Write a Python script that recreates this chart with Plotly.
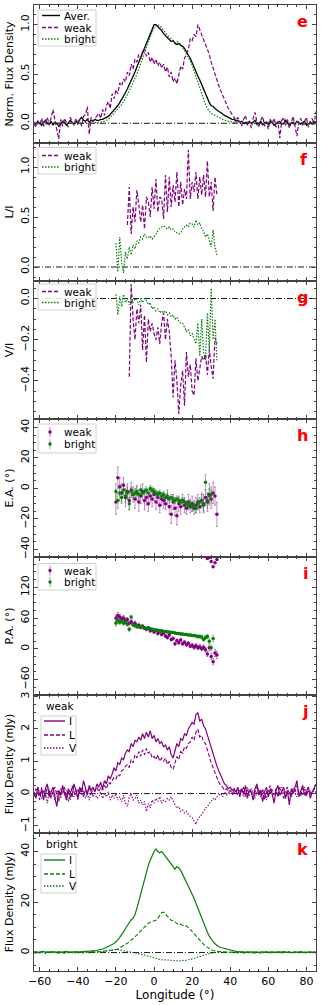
import plotly.graph_objects as go
from plotly.subplots import make_subplots

# longitude bins for the profiles (deg)
lon = list(range(-63, 86))

# panel e: normalised profiles
norm_aver = [
    0.01, -0.01, 0.02, 0.00, -0.02, 0.01, 0.03, 0.00, -0.01, 0.02, -0.02, 0.01, 0.00, -0.03, -0.01, 0.02, 0.01,
    -0.02, 0.00, 0.03, 0.01, -0.01, 0.02, 0.00, 0.04, 0.06, 0.03, 0.02, 0.04, 0.01, 0.03, 0.02, 0.04, 0.03,
    0.03, 0.04, 0.04, 0.05, 0.06, 0.07, 0.09, 0.11, 0.13, 0.16,
    0.18, 0.21, 0.24, 0.27, 0.31, 0.35, 0.39, 0.43, 0.47, 0.52,
    0.57, 0.62, 0.67, 0.72, 0.77, 0.82, 0.87, 0.92, 0.96,
    1.00, 1.00, 0.98, 0.97, 0.94, 0.91, 0.89, 0.88, 0.85, 0.83,
    0.84, 0.81, 0.80, 0.81, 0.79, 0.78, 0.76, 0.72, 0.69, 0.66,
    0.61, 0.56, 0.52, 0.48, 0.44, 0.39, 0.34, 0.29, 0.25, 0.21,
    0.18, 0.17, 0.15, 0.13, 0.12, 0.11, 0.09, 0.08, 0.07, 0.06,
    0.05, 0.04, 0.04,
    0.02, 0.03, 0.01, 0.02, 0.00, 0.01, -0.01, 0.02, 0.00, 0.01, 0.03, -0.01, 0.00, 0.02, -0.02, 0.01, 0.00,
    -0.01, 0.02, 0.01, -0.02, 0.00, 0.01, 0.02, -0.01, 0.00, 0.03, 0.01, -0.02, 0.00, 0.01, -0.01, 0.02, 0.00,
    -0.01, 0.01, 0.02, -0.02, 0.00, 0.01, -0.01, 0.02, 0.01,
]
norm_weak = [
    0.00, -0.04, 0.03, -0.02, 0.05, -0.03, 0.02, 0.06, -0.02, 0.08, 0.14, 0.03, -0.05, -0.16, 0.04, -0.03, 0.05,
    0.01, -0.04, 0.06, 0.02, -0.02, 0.05, 0.00, 0.04, -0.03, 0.07, 0.09, 0.17, -0.11, 0.06, 0.02, 0.05, 0.08,
    0.10, 0.05, 0.14, 0.08, 0.18, 0.22, 0.15, 0.30, 0.25, 0.34,
    0.30, 0.41, 0.38, 0.45, 0.42, 0.52, 0.48, 0.60, 0.55, 0.65,
    0.62, 0.70, 0.66, 0.73, 0.76, 0.68, 0.72, 0.62, 0.67,
    0.60, 0.65, 0.58, 0.62, 0.56, 0.60, 0.52, 0.57, 0.47, 0.52,
    0.42, 0.46, 0.40, 0.50, 0.58, 0.55, 0.66, 0.70, 0.75, 0.86,
    0.84, 0.90, 0.88, 1.00, 0.95, 0.90, 0.85, 0.80, 0.74, 0.70,
    0.62, 0.56, 0.48, 0.44, 0.38, 0.33, 0.28, 0.24, 0.18, 0.15,
    0.12, 0.09, 0.07,
    0.03, 0.06, 0.01, -0.03, 0.04, 0.08, -0.02, 0.02, -0.05, 0.05, 0.11, 0.01, -0.04, 0.03, 0.07, -0.03, 0.02,
    -0.06, 0.04, 0.00, 0.05, -0.04, 0.02, -0.15, 0.03, 0.06, -0.02, 0.04, -0.05, 0.02, 0.07, -0.03, -0.13, 0.02,
    0.05, -0.02, 0.03, 0.06, -0.04, 0.02, 0.05, -0.01, 0.12,
]
norm_bright = [
    0.00, 0.01, -0.01, 0.01, 0.00, 0.01, 0.00, -0.01, 0.01, 0.00, 0.01, 0.00, -0.01, 0.00, 0.01, 0.00, 0.01,
    -0.01, 0.00, 0.01, 0.00, 0.00, 0.01, -0.01, 0.00, 0.01, 0.00, 0.01, 0.00, -0.01, 0.01, 0.00, 0.01, 0.00,
    0.01, 0.01, 0.02, 0.02, 0.03, 0.04, 0.06, 0.08, 0.10, 0.12,
    0.14, 0.17, 0.19, 0.22, 0.25, 0.29, 0.33, 0.37, 0.41, 0.45,
    0.50, 0.55, 0.60, 0.66, 0.71, 0.77, 0.83, 0.88, 0.93,
    0.97, 0.99, 1.00, 0.99, 0.97, 0.95, 0.92, 0.89, 0.87, 0.85,
    0.83, 0.82, 0.83, 0.82, 0.80, 0.77, 0.74, 0.71, 0.67, 0.63,
    0.59, 0.53, 0.47, 0.42, 0.37, 0.31, 0.25, 0.19, 0.15, 0.12,
    0.10, 0.09, 0.08, 0.07, 0.06, 0.05, 0.04, 0.03, 0.03, 0.02,
    0.02, 0.01, 0.01,
    0.01, 0.00, 0.01, 0.00, -0.01, 0.00, 0.01, 0.00, 0.01, -0.01, 0.00, 0.01, 0.00, 0.00, -0.01, 0.01, 0.00,
    0.01, 0.00, -0.01, 0.00, 0.01, 0.00, 0.01, 0.00, -0.01, 0.01, 0.00, 0.00, 0.01, -0.01, 0.00, 0.01, 0.00,
    0.01, 0.00, -0.01, 0.00, 0.01, 0.00, 0.01, -0.01, 0.00,
]

# panel f: L/I
li_weak_lon0 = -14
li_weak = [
    0.42, 0.80, 0.33, 0.60, 0.45, 0.77, 0.62, 0.45, 0.62, 0.38, 0.70, 0.65, 0.50, 0.80, 0.58, 0.88, 0.55, 0.70,
    0.68, 0.48, 0.92, 0.55, 0.90, 0.60, 0.82, 0.65, 0.95, 0.60, 0.85, 0.62, 0.78, 0.68, 1.17, 0.68, 0.85, 0.75,
    0.95, 0.68, 0.90, 0.72, 0.92, 0.70, 1.06, 0.70, 0.85, 0.56, 0.90, 0.72,
]
li_bright_lon0 = -20
li_bright = [
    0.24, -0.05, 0.30, 0.05, -0.06, 0.15, 0.08, 0.20, 0.12, 0.22, 0.18, 0.26, 0.24, 0.30, 0.28, 0.33, 0.30, 0.29,
    0.31, 0.28, 0.30, 0.33, 0.36, 0.39, 0.40, 0.41, 0.40, 0.38, 0.40, 0.37, 0.38, 0.35, 0.34, 0.33, 0.34, 0.38,
    0.40, 0.42, 0.40, 0.44, 0.43, 0.40, 0.47, 0.42, 0.44, 0.38, 0.36, 0.30, 0.33, 0.25, 0.20, 0.37, 0.20, 0.12,
]

# panel g: V/I
vi_weak_lon0 = -13
vi_weak = [
    -0.38, 0.07, -0.10, -0.20, -0.05, -0.12, -0.03, -0.25, -0.08, -0.31, -0.10, -0.16, -0.12, -0.17, -0.20,
    -0.14, -0.22, -0.12, -0.07, -0.20, -0.10, -0.16, -0.28, -0.48, -0.30, -0.40, -0.56, -0.42, -0.35, -0.52,
    -0.26, -0.38, -0.32, -0.45, -0.47, -0.29, -0.40, -0.34, -0.28, -0.30, -0.27, -0.37, -0.25, -0.33, -0.39,
    -0.19, -0.22,
]
vi_bright_lon0 = -20
vi_bright = [
    0.02, -0.08, 0.01, -0.04, 0.02, -0.02, 0.00, -0.03, 0.01, -0.02, 0.00, -0.01, -0.03, 0.00, -0.02, 0.00,
    -0.01, -0.03, -0.02, -0.05, -0.04, -0.06, -0.05, -0.07, -0.06, -0.07, -0.06, -0.08, -0.07, -0.09, -0.08,
    -0.10, -0.09, -0.11, -0.12, -0.12, -0.14, -0.16, -0.15, -0.18, -0.17, -0.20, -0.22, -0.12, -0.28, -0.10,
    -0.26, -0.30, -0.07, -0.25, 0.05, -0.20, -0.10, -0.30,
]

# panel h: ellipticity angle
ea_weak_lon0 = -20
ea_weak = [
    -9, 7, 1, -3, 2, -6, -2, -8, -1, -4, -7, -3, -9, -5, -2, -8, -6, -10, -5, -7, -4, -9, -6, -11, -7, -8, -10,
    -6, -12, -17, -9, -13, -18, -10, -12, -8, -11, -13, -9, -12, -10, -13, -11, -9, -12, -8, -10, -6, -9, -4,
    -7, -3, -5, -17,
]
ea_weak_err = [
    8, 7, 6, 6, 5, 6, 5, 6, 5, 5, 6, 5, 6, 5, 5, 6, 5, 5, 4, 5, 4, 5, 4, 5, 4, 5, 4, 5, 5, 6, 5, 5, 6, 5, 5,
    4, 5, 4, 5, 4, 5, 4, 5, 5, 4, 5, 6, 5, 6, 7, 6, 7, 6, 8,
]
ea_bright_lon0 = -20
ea_bright = [
    -2, -8, -3, -6, -1, -5, -3, -10, -2, -4, -3, -2, -4, -1, -3, -2, -1, -3, 0, -1, -2, -3, -4, -3, -5, -4,
    -6, -5, -7, -6, -7, -8, -7, -8, -9, -8, -9, -10, -11, -10, -12, -11, -13, -10, -9, -8, -11, 4, -8, -5, -4,
]
ea_bright_err = [
    5, 5, 5, 4, 4, 4, 4, 4, 3, 3, 3, 3, 3, 3, 2, 2, 2, 2, 2, 2, 2, 2, 2, 2, 2, 2, 2, 2, 2, 2, 2, 2, 2, 2, 2,
    2, 2, 2, 2, 3, 3, 3, 3, 3, 3, 4, 4, 5, 5, 5, 5,
]

# panel i: position angle
pa_weak_lon0 = -20
pa_weak = [
    60, 65, 62, 58, 60, 55, 57, 50, 53, 48, 50, 44, 46, 42, 44, 40, 38, 41, 35, 37, 33, 36, 30, 34, 28, 31, 25,
    22, 27, 18, 20, 10, 16, 12, 17, 10, 13, 8, 11, 5, 7, 3, 6, 2, 4, 0, 3, -2, -10, 2, -15, -25, -8, -12,
]
pa_weak_err = [
    6, 6, 5, 5, 5, 5, 4, 4, 4, 4, 4, 4, 4, 3, 3, 3, 3, 3, 3, 3, 3, 3, 3, 3, 3, 3, 3, 3, 3, 3, 3, 3, 3, 3, 3,
    3, 3, 3, 3, 3, 4, 4, 4, 4, 4, 4, 5, 5, 5, 6, 6, 6, 7, 7,
]
pa_wrap_lon = [21, 23, 25, 27, 28, 29, 30, 31, 32, 33]
pa_wrap = [185, 186, 184, 181, 176, 178, 170, 160, 168, 174]
pa_bright_lon0 = -20
pa_bright = [
    50, 55, 52, 54, 50, 52, 48, 38, 62, 47, 45, 44, 43, 44, 42, 41, 40, 40, 39, 38, 37, 36, 36, 35, 35, 34,
    34, 33, 33, 32, 32, 31, 30, 30, 29, 29, 28, 28, 27, 27, 26, 26, 25, 24, 24, 23, 18, 22, 24, 15, 2, 20,
]
pa_bright_err = [
    6, 5, 5, 4, 4, 4, 4, 4, 3, 3, 3, 3, 3, 2, 2, 2, 2, 2, 2, 2, 2, 2, 2, 2, 2, 2, 2, 2, 2, 2, 2, 2, 2, 2, 2,
    2, 2, 2, 2, 2, 2, 2, 2, 3, 3, 3, 3, 4, 4, 5, 5, 6,
]

# panel j: weak mode (mJy)
weak_I = [
    0.05, -0.15, 0.20, -0.05, 0.10, -0.20, 0.15, 0.30, -0.10, 0.05, 0.20, -0.15, -0.40, 0.10, -0.05, 0.25, 0.00,
    -0.20, 0.15, 0.05, -0.10, 0.30, 0.10, -0.15, 0.20, 0.05, 0.40, 0.15, -0.05, 0.25, 0.10, 0.20, 0.05, 0.30,
    0.20, 0.35, 0.15, 0.40, 0.30, 0.55, 0.45, 0.60, 0.80, 0.70,
    0.95, 0.90, 1.10, 1.05, 1.25, 1.35, 1.30, 1.55, 1.45, 1.65,
    1.60, 1.75, 1.65, 1.85, 1.70, 1.90, 1.75, 1.95, 1.70,
    1.80, 1.60, 1.70, 1.55, 1.60, 1.45, 1.50, 1.35, 1.45, 1.20,
    1.10, 1.35, 1.55, 1.45, 1.70, 1.65, 1.85, 1.80, 2.00, 2.10,
    2.20, 2.15, 2.45, 2.50, 2.25, 2.30, 2.10, 2.00, 1.80, 1.60,
    1.45, 1.20, 1.05, 0.85, 0.70, 0.55, 0.45, 0.30, 0.25, 0.15,
    0.20, 0.10, 0.15,
    0.05, 0.20, -0.10, 0.15, 0.00, 0.25, -0.15, 0.10, 0.05, -0.20, 0.15, 0.30, -0.05, 0.10, -0.25, 0.05, 0.20,
    -0.10, 0.15, 0.00, -0.30, 0.10, 0.25, -0.05, 0.05, 0.20, -0.15, 0.10, -0.35, 0.15, 0.00, 0.20, 0.40, -0.10,
    0.05, 0.25, -0.05, 0.10, 0.20, -0.15, 0.05, 0.15, 0.30,
]
weak_L = [
    -0.10, 0.15, 0.05, -0.20, 0.20, 0.00, -0.10, 0.25, 0.05, -0.15, 0.10, 0.20, -0.05, -0.25, 0.15, 0.00, 0.20,
    -0.10, 0.10, -0.20, 0.25, 0.05, -0.05, 0.15, 0.00, 0.20, -0.10, 0.10, 0.05, 0.20, 0.00, 0.15, 0.10, 0.20,
    0.05, 0.20, 0.10, 0.25, 0.15, 0.35, 0.30, 0.40, 0.50, 0.45,
    0.60, 0.55, 0.70, 0.75, 0.85, 0.90, 0.80, 1.05, 0.95, 1.20,
    1.10, 1.30, 1.15, 1.35, 1.20, 1.40, 1.25, 1.30, 1.10,
    1.15, 1.05, 1.20, 1.00, 1.10, 1.00, 1.10, 0.90, 1.00, 0.80,
    0.75, 0.95, 1.15, 1.05, 1.30, 1.25, 1.45, 1.40, 1.55, 1.60,
    1.75, 1.65, 1.90, 2.00, 1.75, 1.80, 1.60, 1.55, 1.30, 1.15,
    0.95, 0.80, 0.60, 0.50, 0.35, 0.25, 0.20, 0.10, 0.15, 0.05,
    0.10, 0.00, 0.10,
    0.10, -0.05, 0.15, 0.05, 0.20, -0.10, 0.10, 0.00, 0.15, -0.15, 0.05, 0.20, 0.10, -0.05, 0.15, -0.20, 0.05,
    0.10, 0.25, -0.05, 0.00, 0.15, -0.10, 0.20, 0.05, -0.15, 0.10, 0.20, 0.00, -0.10, 0.15, 0.05, 0.25, 0.00,
    -0.05, 0.15, 0.10, -0.10, 0.20, 0.05, 0.00, 0.15, 0.10,
]
weak_V = [
    0.05, -0.10, 0.20, -0.05, -0.15, 0.10, 0.00, -0.30, 0.15, -0.10, 0.05, -0.20, 0.10, 0.00, -0.15, 0.20, -0.05,
    0.10, -0.25, 0.05, 0.00, -0.10, 0.15, -0.20, 0.05, -0.05, 0.10, -0.15, 0.00, -0.20, 0.05, -0.10, 0.00, -0.15,
    -0.10, 0.05, -0.15, 0.00, -0.10, 0.05, -0.20, -0.05, -0.15, 0.00,
    -0.20, -0.10, -0.25, -0.05, -0.30, -0.40, -0.10, 0.00, -0.20, -0.15,
    -0.05, -0.30, -0.20, -0.35, -0.25, -0.55, -0.30, -0.45, -0.20,
    -0.30, -0.15, -0.25, -0.10, -0.30, -0.20, -0.25, -0.15, -0.20, -0.10,
    -0.25, -0.35, -0.45, -0.40, -0.55, -0.50, -0.60, -0.55, -0.65, -0.70,
    -0.75, -0.85, -0.95, -0.80, -0.70, -0.65, -0.55, -0.45, -0.40, -0.30,
    -0.25, -0.15, -0.20, -0.10, -0.05, 0.00, -0.10, 0.05, -0.05, 0.00,
    0.10, -0.05, 0.05,
    0.00, 0.10, -0.05, 0.15, -0.10, 0.05, 0.20, -0.05, 0.00, 0.10, -0.15, 0.05, 0.15, -0.10, 0.00, 0.05, -0.20,
    0.10, 0.00, 0.15, -0.05, 0.10, -0.10, 0.05, 0.20, 0.00, -0.15, 0.10, 0.05, -0.05, 0.15, 0.00, -0.10, 0.10,
    0.05, -0.05, 0.20, 0.00, 0.10, -0.10, 0.05, 0.15, 0.00,
]

# panel k: bright mode (mJy)
bright_I = [
    0.2, 0.4, 0.1, 0.3, 0.2, 0.5, 0.1, 0.3, 0.2, 0.4, 0.0, 0.3, 0.2, 0.4, 0.1, 0.3, 0.2, 0.5, 0.2, 0.3, 0.1,
    0.4, 0.3, 0.2, 0.4, 0.3, 0.5, 0.4, 0.6, 0.5, 0.7, 0.6, 0.8, 0.9,
    1.0, 1.2, 1.4, 1.7, 2.0, 2.4, 2.8, 3.2, 3.6, 4.2,
    5.0, 6.0, 7.0, 8.2, 9.5, 10.8, 12.0, 13.0, 13.5, 15.0,
    17.5, 20.5, 23.5, 26.5, 29.5, 32.0, 34.5, 36.5, 38.5,
    40.0, 41.0, 40.0, 39.5, 40.0, 39.0, 38.0, 37.0, 36.0, 35.0,
    34.0, 33.0, 34.0, 33.5, 32.5, 31.0, 29.5, 28.0, 26.5, 25.0,
    23.5, 21.5, 19.5, 17.5, 15.5, 13.5, 11.5, 9.5, 8.0, 6.5,
    5.3, 4.3, 3.5, 2.8, 2.3, 2.0, 1.8, 1.6, 1.4, 1.2,
    1.0, 0.8, 0.6,
    0.5, 0.3, 0.4, 0.2, 0.3, 0.1, 0.3, 0.2, 0.4, 0.1, 0.2, 0.3, 0.0, 0.2, 0.3, 0.1, 0.4, 0.2, 0.1, 0.3, 0.2,
    0.0, 0.3, 0.1, 0.2, 0.4, 0.2, 0.1, 0.3, 0.0, 0.2, 0.3, 0.1, 0.2, 0.4, 0.1, 0.2, 0.0, 0.3, 0.2, 0.1, 0.3, 0.2,
]
bright_L = [
    0.1, -0.2, 0.2, 0.0, 0.3, -0.1, 0.1, 0.2, -0.2, 0.0, 0.3, 0.1, -0.1, 0.2, 0.0, 0.1, -0.2, 0.3, 0.1, 0.0,
    0.2, -0.1, 0.1, 0.3, 0.0, 0.2, 0.1, 0.3, 0.2, 0.1, 0.3, 0.2, 0.4, 0.3,
    0.3, 0.4, 0.4, 0.5, 0.6, 0.6, 0.7, 0.8, 0.9, 1.1,
    1.4, 1.8, 2.2, 2.7, 3.2, 3.7, 4.2, 4.8, 5.5, 6.2,
    7.0, 7.8, 8.6, 9.4, 10.2, 11.0, 11.6, 12.0, 12.3,
    12.6, 12.8, 13.5, 14.5, 15.8, 16.0, 15.2, 14.0, 13.2, 12.8,
    12.6, 12.0, 11.5, 11.0, 11.2, 10.8, 10.5, 10.6, 10.0, 9.2,
    8.3, 7.4, 6.5, 5.7, 4.9, 4.1, 3.3, 2.6, 2.0, 1.5,
    1.1, 0.8, 0.6, 0.5, 0.4, 0.3, 0.3, 0.2, 0.3, 0.1,
    0.2, 0.1, 0.2,
    0.1, -0.1, 0.2, 0.0, 0.3, -0.2, 0.1, 0.0, 0.2, -0.1, 0.1, 0.3, 0.0, -0.2, 0.2, 0.1, -0.1, 0.0, 0.3, 0.1,
    -0.2, 0.2, 0.0, 0.1, -0.1, 0.3, 0.0, 0.1, 0.2, -0.2, 0.0, 0.1, 0.3, -0.1, 0.2, 0.0, 0.1, -0.1, 0.2, 0.3,
    0.0, 0.1, -0.2,
]
bright_V = [
    0.2, -0.2, 0.1, -0.3, 0.3, 0.0, -0.4, 0.2, -0.1, 0.1, 0.3, -0.2, 0.0, -0.3, 0.2, 0.1, -0.2, 0.3, -0.1, 0.0,
    0.2, -0.3, 0.1, -0.1, 0.3, 0.0, -0.2, 0.2, 0.1, -0.1, 0.3, 0.2, 0.0, 0.3,
    0.2, 0.4, 0.3, 0.5, 0.6, 0.5, 0.8, 0.9, 1.1, 1.3,
    1.2, 1.0, 0.9, 0.7, 0.6, 0.4, 0.3, 0.1, 0.0, -0.2,
    -0.3, -0.4, -0.6, -0.8, -1.0, -1.3, -1.6, -1.8, -2.0,
    -2.2, -2.4, -2.6, -2.8, -2.9, -2.8, -2.9, -3.0, -3.1, -3.0,
    -3.2, -3.1, -3.3, -3.2, -3.3, -3.1, -3.2, -3.0, -2.9, -2.7,
    -2.5, -2.3, -2.1, -1.9, -1.6, -1.4, -1.1, -0.9, -0.6, -0.4,
    -0.2, 0.0, 0.2, 0.3, 0.4, 0.3, 0.2, 0.0, 0.1, -0.1,
    0.0, 0.1, -0.1,
    0.1, -0.2, 0.2, 0.0, -0.3, 0.1, 0.3, -0.1, 0.0, 0.2, -0.2, 0.1, -0.1, 0.3, 0.0, -0.2, 0.2, 0.1, -0.3, 0.0,
    0.2, -0.1, 0.1, 0.3, -0.2, 0.0, 0.1, -0.1, 0.2, 0.0, -0.2, 0.3, 0.1, -0.1, 0.0, 0.2, -0.3, 0.1, 0.0, 0.2,
    -0.1, 0.1, 0.0,
]

PURPLE = "#800080"
GREEN = "#0a7d0a"
PURPLE_ERR = "rgba(128,0,128,0.45)"
GREEN_ERR = "rgba(10,125,10,0.45)"
FONT = "DejaVu Sans"
DASH = "4px,2px"
DOT = "1.5px,1.5px"

W, H = 322, 1005
ML, MR, MT, MB = 34, 6, 5, 34
PW = W - ML - MR
PH = (H - MT - MB) / 7


def xs(start, vals):
    return list(range(start, start + len(vals)))


def refs(row):
    sfx = "" if row == 1 else str(row)
    return "x%s domain" % sfx, "y%s domain" % sfx


fig = make_subplots(rows=7, cols=1, shared_xaxes=True, vertical_spacing=0)


def line(x, y, color, dash, row, width=1.2):
    fig.add_trace(
        go.Scatter(x=x, y=y, mode="lines", showlegend=False, line=dict(color=color, dash=dash, width=width)),
        row=row, col=1,
    )


def points(x, y, err, color, errcolor, row, clip=True):
    fig.add_trace(
        go.Scatter(x=x, y=y, mode="markers", showlegend=False, marker=dict(color=color, size=3.5),
                   error_y=dict(type="data", array=err, color=errcolor, thickness=1, width=1) if err else None,
                   cliponaxis=clip),
        row=row, col=1,
    )


# e
line(lon[:len(norm_aver)], norm_aver, "black", "solid", 1, width=1.3)
line(lon[:len(norm_weak)], norm_weak, PURPLE, DASH, 1)
line(lon[:len(norm_bright)], norm_bright, GREEN, DOT, 1)
# f
line(xs(li_weak_lon0, li_weak), li_weak, PURPLE, DASH, 2)
line(xs(li_bright_lon0, li_bright), li_bright, GREEN, DOT, 2)
# g
line(xs(vi_weak_lon0, vi_weak), vi_weak, PURPLE, DASH, 3)
line(xs(vi_bright_lon0, vi_bright), vi_bright, GREEN, DOT, 3)
# h
points(xs(ea_weak_lon0, ea_weak), ea_weak, ea_weak_err, PURPLE, PURPLE_ERR, 4)
points(xs(ea_bright_lon0, ea_bright), ea_bright, ea_bright_err, GREEN, GREEN_ERR, 4)
# i
points(xs(pa_weak_lon0, pa_weak), pa_weak, pa_weak_err, PURPLE, PURPLE_ERR, 5)
points(pa_wrap_lon, pa_wrap, None, PURPLE, None, 5, clip=False)
points(xs(pa_bright_lon0, pa_bright), pa_bright, pa_bright_err, GREEN, GREEN_ERR, 5)
# j
line(lon[:len(weak_I)], weak_I, PURPLE, "solid", 6)
line(lon[:len(weak_L)], weak_L, PURPLE, DASH, 6, width=1.1)
line(lon[:len(weak_V)], weak_V, PURPLE, DOT, 6, width=1.1)
# k
line(lon[:len(bright_I)], bright_I, GREEN, "solid", 7)
line(lon[:len(bright_L)], bright_L, GREEN, DASH, 7, width=1.1)
line(lon[:len(bright_V)], bright_V, GREEN, DOT, 7, width=1.1)

# zero reference lines
for r in (1, 2, 3, 6, 7):
    fig.add_hline(y=0, row=r, col=1, line=dict(color="black", width=0.9, dash="6px,2px,1px,2px"), layer="below")

axis_common = dict(
    showline=True, mirror="allticks", linecolor="#444", linewidth=1, automargin=False,
    ticks="inside", ticklen=4, tickcolor="#444", showgrid=False, zeroline=False,
    tickfont=dict(family=FONT, size=11, color="black"),
)

for r in range(1, 8):
    fig.update_xaxes(range=[-63, 85], tick0=0, dtick=20,
                     minor=dict(ticks="inside", ticklen=2, dtick=5, tick0=0, tickcolor="#444"),
                     row=r, col=1, **axis_common)
fig.update_xaxes(title=dict(text="Longitude (°)", font=dict(family=FONT, size=12), standoff=0), row=7, col=1)

yspecs = [
    ("Norm. Flux Density", [-0.2, 1.2], 0.5, 0.1, ".1f"),
    ("L/I", [-0.14, 1.24], 0.5, 0.1, ".1f"),
    ("V/I", [-0.585, 0.085], 0.2, 0.05, ".1f"),
    ("E.A. (°)", [-45, 45.5], 20, 5, ""),
    ("P.A. (°)", [-90, 179], 60, 15, ""),
    ("Flux Density (mJy)", [-1.22, 3.05], 1, 0.25, ""),
    ("Flux Density (mJy)", [-7.3, 47.3], 20, 5, ""),
]
for r, (title, rng, dt, mdt, fmt) in enumerate(yspecs, start=1):
    fig.update_yaxes(title=dict(text=title, font=dict(family=FONT, size=11), standoff=2),
                     range=rng, tick0=0, dtick=dt, tickformat=fmt, tickangle=-90,
                     minor=dict(ticks="inside", ticklen=2, dtick=mdt, tick0=0, tickcolor="#444"),
                     row=r, col=1, **axis_common)


# compact in-panel legends, laid out in pixels from each panel's top-left corner
def dx(px):
    return (px - ML) / PW


def dy(off):
    return 1 - off / PH


def legend_box(row, x0, x1, top, bottom, entries, lx0, lx1, tx, fsize=10.5):
    xr, yr = refs(row)
    fig.add_shape(type="rect", xref=xr, yref=yr, x0=dx(x0), x1=dx(x1), y0=dy(bottom), y1=dy(top),
                  fillcolor="rgba(255,255,255,0.85)", line=dict(color="#cfcfcf", width=1))
    for label, color, style, off in entries:
        if style == "err":
            ecol = PURPLE_ERR if color == PURPLE else GREEN_ERR
            xm = (lx0 + lx1) / 2
            fig.add_shape(type="line", xref=xr, yref=yr, x0=dx(xm), x1=dx(xm), y0=dy(off + 5), y1=dy(off - 5),
                          line=dict(color=ecol, width=1.2))
            fig.add_shape(type="circle", xref=xr, yref=yr, x0=dx(xm - 1.7), x1=dx(xm + 1.7),
                          y0=dy(off + 1.7), y1=dy(off - 1.7), fillcolor=color, line=dict(color=color, width=0))
        else:
            fig.add_shape(type="line", xref=xr, yref=yr, x0=dx(lx0), x1=dx(lx1), y0=dy(off), y1=dy(off),
                          line=dict(color=color, dash=style, width=1.4))
        fig.add_annotation(text=label, xref=xr, yref=yr, x=dx(tx), y=dy(off), xanchor="left",
                           yanchor="middle", showarrow=False, font=dict(family=FONT, size=fsize, color="black"))


legend_box(1, 38, 96, 5, 41, [("Aver.", "black", "solid", 10.5), ("weak", PURPLE, DASH, 22.5),
                              ("bright", GREEN, DOT, 34)], 42, 60, 62)
legend_box(2, 38, 96, 4.5, 31, [("weak", PURPLE, DASH, 12.5), ("bright", GREEN, DOT, 24)], 42, 60, 62)
legend_box(3, 38, 96, 3, 29, [("weak", PURPLE, DASH, 10.5), ("bright", GREEN, DOT, 21.5)], 42, 60, 62)
legend_box(4, 38, 96, 5, 34, [("weak", PURPLE, "err", 13), ("bright", GREEN, "err", 25)], 44, 56, 62)
legend_box(5, 38, 96, 6.5, 33, [("weak", PURPLE, "err", 13.5), ("bright", GREEN, "err", 25)], 44, 56, 62)
legend_box(6, 41, 76, 21, 60, [("I", PURPLE, "solid", 26), ("L", PURPLE, DASH, 40), ("V", PURPLE, DOT, 53)],
           44, 65, 67)
legend_box(7, 41, 76, 21, 60, [("I", GREEN, "solid", 27), ("L", GREEN, DASH, 41), ("V", GREEN, DOT, 53)],
           44, 65, 67)

for r, letter in enumerate(["e", "f", "g", "h", "i", "j", "k"], start=1):
    xr, yr = refs(r)
    fig.add_annotation(text="<b>" + letter + "</b>", x=0.978, y=0.965, xref=xr, yref=yr,
                       xanchor="right", yanchor="top", showarrow=False,
                       font=dict(family=FONT, size=16, color="red"))

for r, label in ((6, "weak"), (7, "bright")):
    xr, yr = refs(r)
    fig.add_annotation(text=label, x=dx(44), y=dy(11), xref=xr, yref=yr,
                       xanchor="left", yanchor="middle", showarrow=False,
                       font=dict(family=FONT, size=10.5, color="black"))

fig.update_layout(
    width=W, height=H,
    margin=dict(l=ML, r=MR, t=MT, b=MB, autoexpand=False),
    plot_bgcolor="white", paper_bgcolor="white",
    font=dict(family=FONT, size=11, color="black"),
    showlegend=False,
)

# the page's default body margin would shift the figure inside the window
fig.write_html("out.html", config={"displayModeBar": False},
               post_script="document.body.style.margin='0';")
